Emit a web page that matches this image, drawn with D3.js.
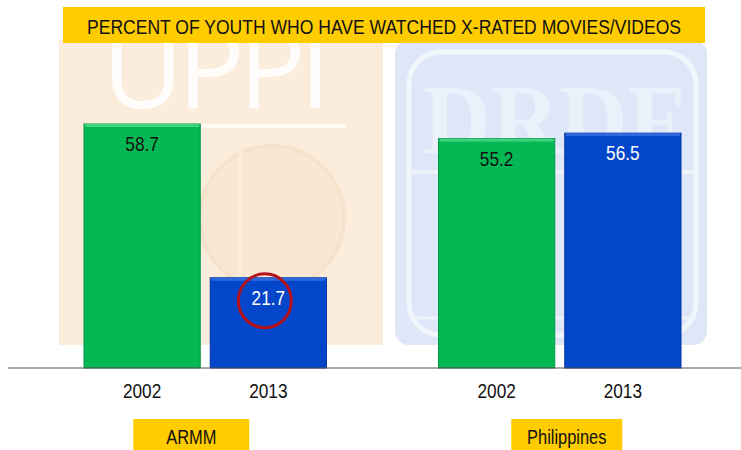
<!DOCTYPE html>
<html>
<head>
<meta charset="utf-8">
<script src="https://cdn.jsdelivr.net/npm/d3@7"></script>
<style>
  body { margin: 0; background: #fff; }
  svg text { font-family: "Liberation Sans Narrow", "Arial Narrow", "Liberation Sans", sans-serif; }
</style>
</head>
<body>
<div id="chart"></div>
<script>
// chart data
var title = "PERCENT OF YOUTH WHO HAVE WATCHED X-RATED MOVIES/VIDEOS";
var groups = ["ARMM", "Philippines"];
var years = ["2002", "2013"];
var values2002 = [58.7, 55.2];
var values2013 = [21.7, 56.5];
var highlight = {group: "ARMM", year: "2013"};

var width = 741, height = 450;
var baseY = 368;

var svg = d3.select("#chart")
  .append("svg")
    .attr("width", width)
    .attr("height", height);

// squeeze text horizontally to look like Arial Narrow
function narrow(sel) {
  sel.each(function() {
    var w = this.getComputedTextLength();
    d3.select(this).attr("textLength", w * 0.82).attr("lengthAdjust", "spacingAndGlyphs");
  });
}

// --- faint watermark logos in the background ---
var bg = svg.append("g");
bg.append("rect").attr("x", 59).attr("y", 40).attr("width", 324).attr("height", 305)
  .attr("fill", "#fbecdb");
bg.append("text").attr("x", 102).attr("y", 108)
  .attr("textLength", 229).attr("lengthAdjust", "spacing")
  .style("font-family", "'Open Sans', Lato, sans-serif").style("font-weight", 400)
  .style("font-size", "112px").attr("fill", "#fff").attr("opacity", 0.9)
  .text("UPPI");
bg.append("line").attr("x1", 201).attr("x2", 346).attr("y1", 126).attr("y2", 126)
  .attr("stroke", "#fff").attr("stroke-width", 4).attr("opacity", 0.8);
bg.append("circle").attr("cx", 272).attr("cy", 218).attr("r", 72)
  .attr("fill", "#f8e6cf").attr("stroke", "#f2dfc3").attr("stroke-width", 4).attr("opacity", 0.7);
bg.append("line").attr("x1", 240).attr("x2", 240).attr("y1", 150).attr("y2", 286)
  .attr("stroke", "#fbecdb").attr("stroke-width", 3);

bg.append("rect").attr("x", 395).attr("y", 40).attr("width", 312).attr("height", 305)
  .attr("rx", 14).attr("fill", "#dde7f7");
bg.append("rect").attr("x", 409).attr("y", 52).attr("width", 287).attr("height", 283)
  .attr("rx", 32).attr("fill", "none").attr("stroke", "#f1f5fc").attr("stroke-width", 5);
bg.append("text").attr("x", 423).attr("y", 153)
  .attr("textLength", 262).attr("lengthAdjust", "spacingAndGlyphs")
  .style("font-family", "'Liberation Serif', 'DejaVu Serif', serif").style("font-weight", "bold")
  .style("font-size", "100px").attr("fill", "#ebf1fa")
  .text("DRDF");
bg.append("line").attr("x1", 411).attr("x2", 694).attr("y1", 172).attr("y2", 172)
  .attr("stroke", "#eef3fb").attr("stroke-width", 4);
bg.append("line").attr("x1", 411).attr("x2", 694).attr("y1", 318).attr("y2", 318)
  .attr("stroke", "#eef3fb").attr("stroke-width", 3);

// --- title ---
svg.append("rect").attr("x", 63).attr("y", 7).attr("width", 642).attr("height", 36)
  .attr("fill", "#ffcc00");
svg.append("text").attr("x", 384).attr("y", 34)
  .attr("text-anchor", "middle")
  .attr("textLength", 594).attr("lengthAdjust", "spacingAndGlyphs")
  .style("font-size", "21px").attr("fill", "#111")
  .text(title);

// --- scales ---
var x0 = d3.scaleBand()
  .domain(groups)
  .range([84, 681])
  .paddingInner(0.316);

var x1 = d3.scaleBand()
  .domain(years)
  .range([0, x0.bandwidth()])
  .paddingInner(0.079);

var y = d3.scaleLinear()
  .domain([0, 60])
  .range([baseY, baseY - 249.4]);

var color = d3.scaleOrdinal().domain(years).range(["#05b853", "#0446c9"]);
var topColor = d3.scaleOrdinal().domain(years).range(["#3fd27f", "#2f68da"]);
var edgeColor = d3.scaleOrdinal().domain(years).range(["#049844", "#0335a6"]);
var labelColor = d3.scaleOrdinal().domain(years).range(["#111", "#fff"]);

var data = [];
groups.forEach(function(g, i) {
  data.push({group: g, year: "2002", value: values2002[i]});
  data.push({group: g, year: "2013", value: values2013[i]});
});

// --- bars ---
var bars = svg.append("g").selectAll("g")
  .data(data)
  .enter().append("g")
    .attr("transform", function(d) { return "translate(" + (x0(d.group) + x1(d.year)) + ",0)"; });

bars.append("rect")
  .attr("x", 0)
  .attr("y", function(d) { return y(d.value); })
  .attr("width", x1.bandwidth())
  .attr("height", function(d) { return baseY - y(d.value); })
  .attr("fill", function(d) { return color(d.year); })
  .attr("stroke", function(d) { return edgeColor(d.year); })
  .attr("stroke-width", 1);

bars.append("rect")
  .attr("x", 1)
  .attr("y", function(d) { return y(d.value); })
  .attr("width", x1.bandwidth() - 2)
  .attr("height", 3)
  .attr("fill", function(d) { return topColor(d.year); });

bars.append("text")
  .attr("x", x1.bandwidth() / 2)
  .attr("y", function(d) { return y(d.value) + 27; })
  .attr("text-anchor", "middle")
  .style("font-size", "21px")
  .attr("fill", function(d) { return labelColor(d.year); })
  .text(function(d) { return d.value.toFixed(1); })
  .call(narrow);

// red circle around the highlighted value
bars.filter(function(d) { return d.group === highlight.group && d.year === highlight.year; })
  .append("ellipse")
    .attr("cx", x1.bandwidth() / 2 - 3.5)
    .attr("cy", function(d) { return y(d.value) + 23; })
    .attr("rx", 26.5)
    .attr("ry", 27)
    .attr("fill", "none")
    .attr("stroke", "#b5121b")
    .attr("stroke-width", 3);

// --- baseline ---
svg.append("line")
  .attr("x1", 8).attr("x2", width)
  .attr("y1", baseY).attr("y2", baseY)
  .attr("stroke", "#555").attr("stroke-width", 1.2);

// --- year labels ---
svg.append("g").selectAll("text")
  .data(data)
  .enter().append("text")
    .attr("x", function(d) { return x0(d.group) + x1(d.year) + x1.bandwidth() / 2; })
    .attr("y", 398)
    .attr("text-anchor", "middle")
    .style("font-size", "21px")
    .attr("fill", "#111")
    .text(function(d) { return d.year; })
    .call(narrow);

// --- group labels in yellow boxes ---
var boxW = [116, 111];
var boxShift = [-14, 7];
groups.forEach(function(g, i) {
  var cx = x0(g) + x0.bandwidth() / 2 + boxShift[i];
  svg.append("rect")
    .attr("x", cx - boxW[i] / 2).attr("y", 419)
    .attr("width", boxW[i]).attr("height", 34)
    .attr("fill", "#ffcc00");
  svg.append("text")
    .attr("x", cx).attr("y", 444)
    .attr("text-anchor", "middle")
    .style("font-size", "20px")
    .attr("fill", "#111")
    .text(g)
    .call(narrow);
});
</script>
</body>
</html>
